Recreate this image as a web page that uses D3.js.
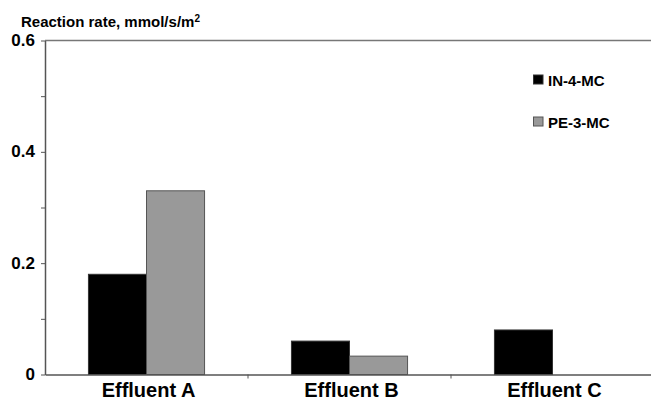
<!DOCTYPE html>
<html>
<head>
<meta charset="utf-8">
<script src="https://cdn.jsdelivr.net/npm/d3@7/dist/d3.min.js"></script>
<style>
  html, body { margin: 0; padding: 0; background: #fff; }
  svg { display: block; font-family: "Liberation Sans", Arial, sans-serif; }
</style>
</head>
<body>
<svg id="chart" width="651" height="398"></svg>
<script>
const categories = ["Effluent A", "Effluent B", "Effluent C"];
const seriesNames = ["IN-4-MC", "PE-3-MC"];
const in4mc = [0.18, 0.06, 0.08];
const pe3mc = [0.33, 0.033, 0];
const yTicks = [0, 0.2, 0.4, 0.6];
const yTickLabels = ["0", "0.2", "0.4", "0.6"];
const yMinorTicks = [0.1, 0.3, 0.5];
const colors = ["#000000", "#999999"];
const strokes = ["#333333", "#555555"];

(function () {
const svg = d3.select("#chart");
const mLeft = 45, mRight = 654, mTop = 40.5, mBottom = 374.5;

const x0 = d3.scaleBand().domain(categories).range([mLeft, mRight]).padding(0);
const pairW = x0.bandwidth() * 0.572;
const x1 = d3.scaleBand().domain(seriesNames).range([0, pairW]).padding(0);
const y = d3.scaleLinear().domain([0, 0.6]).range([mBottom, mTop]);

const data = categories.map((c, i) => ({ cat: c, vals: [in4mc[i], pe3mc[i]] }));

// top frame line
svg.append("line")
  .attr("x1", mLeft).attr("x2", 651)
  .attr("y1", y(0.6)).attr("y2", y(0.6))
  .attr("stroke", "#777").attr("stroke-width", 1.5);

// bars
const g = svg.append("g");
data.forEach(d => {
  const off = x0(d.cat) + (x0.bandwidth() - pairW) / 2;
  d.vals.forEach((v, j) => {
    if (v <= 0) return;
    g.append("rect")
      .attr("x", off + x1(seriesNames[j]))
      .attr("y", y(v))
      .attr("width", x1.bandwidth())
      .attr("height", y(0) - y(v))
      .attr("fill", colors[j])
      .attr("stroke", strokes[j])
      .attr("stroke-width", 1);
  });
});

// y axis
const yAxis = d3.axisLeft(y).tickValues(yTicks)
  .tickFormat((d, i) => yTickLabels[i]).tickSize(4).tickSizeOuter(0).tickPadding(6);
const ya = svg.append("g").attr("transform", `translate(${mLeft},0)`).call(yAxis);
ya.select(".domain").attr("stroke", "#555").attr("stroke-width", 1.5);
ya.selectAll(".tick line").attr("stroke", "#555");
ya.selectAll(".tick text")
  .attr("font-size", "17px").attr("font-weight", "bold").attr("fill", "#000")
  .attr("font-family", "'Liberation Sans', Arial, sans-serif")
  .attr("dy", "0.3em");

const yMinor = d3.axisLeft(y).tickValues(yMinorTicks).tickFormat("").tickSize(4).tickSizeOuter(0);
const ym = svg.append("g").attr("transform", `translate(${mLeft},0)`).call(yMinor);
ym.select(".domain").remove();
ym.selectAll(".tick line").attr("stroke", "#555");

// x axis
const xAxis = d3.axisBottom(x0).tickSize(0).tickSizeOuter(0).tickPadding(8);
const xa = svg.append("g").attr("transform", `translate(0,${mBottom})`).call(xAxis);
xa.select(".domain").attr("stroke", "#555").attr("stroke-width", 1.5);
xa.selectAll(".tick text")
  .attr("font-size", "20px").attr("font-weight", "bold").attr("fill", "#000")
  .attr("font-family", "'Liberation Sans', Arial, sans-serif")
  .attr("dx", "2px");
const bounds = categories.slice(1).map(c => x0(c));
xa.selectAll(".btick").data(bounds).enter().append("line")
  .attr("class", "btick")
  .attr("x1", d => d).attr("x2", d => d)
  .attr("y1", 0).attr("y2", 4)
  .attr("stroke", "#555");

// title
const title = svg.append("text")
  .attr("x", 21).attr("y", 27)
  .attr("font-size", "15px").attr("font-weight", "bold").attr("fill", "#000")
  .text("Reaction rate, mmol/s/m");
title.append("tspan").attr("dy", "-5").attr("font-size", "10px").text("2");

// legend
const legend = svg.append("g");
seriesNames.forEach((s, i) => {
  const ly = 75 + i * 42;
  legend.append("rect")
    .attr("x", 533.5).attr("y", ly)
    .attr("width", 9.5).attr("height", 9)
    .attr("fill", colors[i]).attr("stroke", strokes[i]).attr("stroke-width", 1);
  legend.append("text")
    .attr("x", 548).attr("y", ly + 11)
    .attr("font-size", "15px").attr("font-weight", "bold").attr("fill", "#000")
    .text(s);
});
})();
</script>
</body>
</html>
